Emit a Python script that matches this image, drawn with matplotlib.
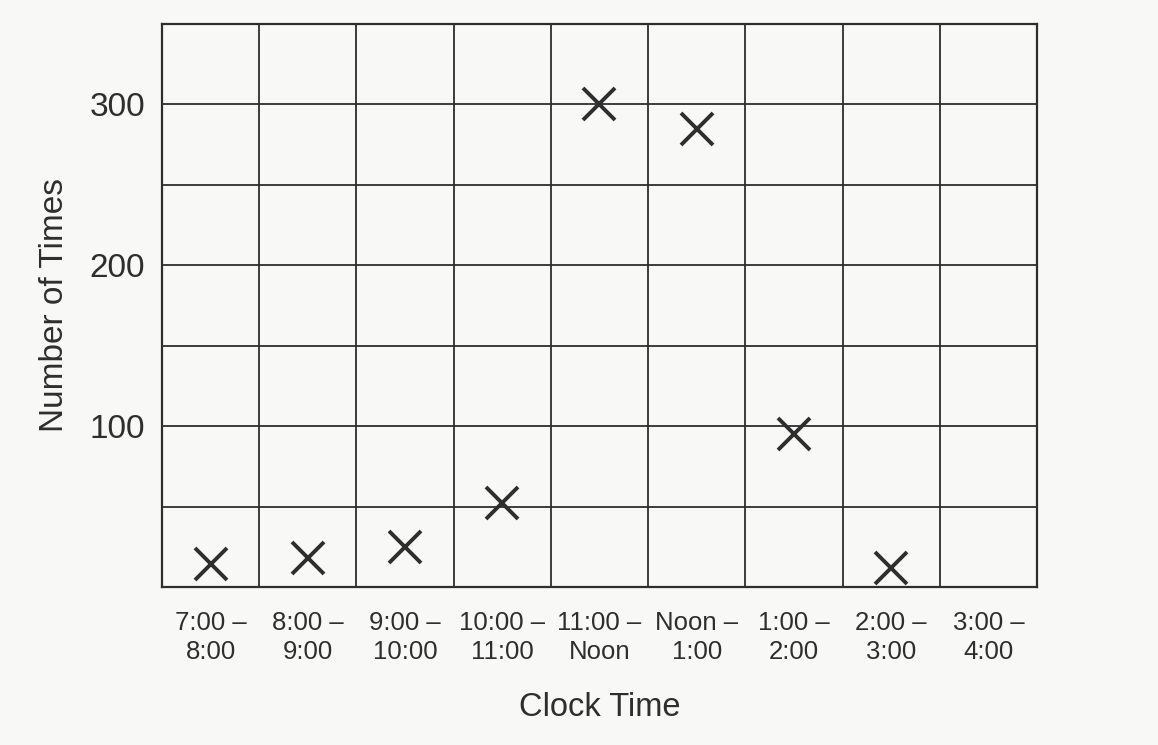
import numpy as np
import matplotlib.pyplot as plt

periods = ["7:00 –\n8:00", "8:00 –\n9:00", "9:00 –\n10:00", "10:00 –\n11:00",
           "11:00 –\nNoon", "Noon –\n1:00", "1:00 –\n2:00", "2:00 –\n3:00",
           "3:00 –\n4:00"]
counts = [14, 18, 25, 52, 300, 285, 95, 12]   # no mark for 3:00 - 4:00
y_labels = [100, 200, 300]

plt.rcParams['font.family'] = ['Liberation Sans', 'DejaVu Sans']
ink = '#2e2e2e'
paper = '#f8f8f7'

fig = plt.figure(figsize=(11.58, 7.45), dpi=100, facecolor=paper)
ax = fig.add_axes([0.1399, 0.2121, 0.7556, 0.7557])
ax.set_facecolor(paper)

n = len(periods)
ax.set_xlim(0, n)
ax.set_ylim(0, 350)

# x marks sit in the middle of each column
xs = np.arange(len(counts)) + 0.5
ax.plot(xs, counts, linestyle='none', marker='x', markersize=23,
        markeredgewidth=2.8, color=ink)

# grid: one column per period, rows every 50
for v in range(1, n):
    ax.axvline(v, color=ink, linewidth=1.3, zorder=1)
for v in range(50, 350, 50):
    ax.axhline(v, color=ink, linewidth=1.3, zorder=1)

ax.set_xticks(np.arange(n) + 0.5)
ax.set_xticklabels(periods, fontsize=18.5, color=ink, linespacing=1.3)
ax.set_yticks(y_labels)
ax.set_yticklabels([str(v) for v in y_labels], fontsize=24, color=ink)
ax.tick_params(which='both', length=0)
ax.tick_params(axis='x', pad=17)
ax.tick_params(axis='y', pad=12)

for s in ax.spines.values():
    s.set_color(ink)
    s.set_linewidth(1.6)

ax.set_xlabel("Clock Time", fontsize=23.5, color=ink, labelpad=20)
ax.set_ylabel("Number of Times", fontsize=24, color=ink, labelpad=14)

fig.savefig("out.png", dpi=100, facecolor=paper)
